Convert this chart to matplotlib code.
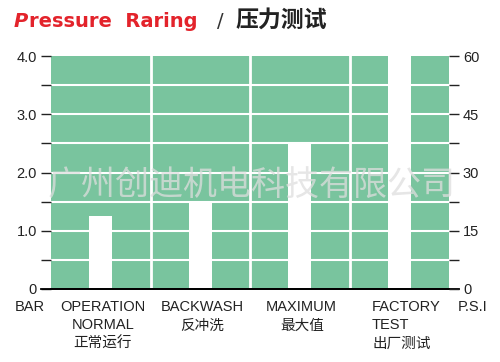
import matplotlib
matplotlib.use('Agg')
import matplotlib.pyplot as plt
from matplotlib.ticker import MultipleLocator, FixedLocator

# Данные
categories = ['OPERATION\nNORMAL\n正常运行', 'BACKWASH\n反冲洗', 'MAXIMUM\n最大值', 'FACTORY\nTEST\n出厂测试']
bar_values = [1.25, 1.5, 2.5, 4.0]
bar_ticks = [0, 1.0, 2.0, 3.0, 4.0]
bar_labels = ['0', '1.0', '2.0', '3.0', '4.0']
psi_ticks = [0, 15, 30, 45, 60]
psi_labels = ['0', '15', '30', '45', '60']

GREEN = '#79C49E'
LABEL_FONT = ['Liberation Sans', 'Noto Sans CJK SC']

fig = plt.figure(figsize=(5, 3.62), dpi=100)
ax = fig.add_axes([51 / 500, 1 - 289 / 362, 398 / 500, 233 / 362])
ax.set_facecolor(GREEN)
ax.set_xlim(0, 4)
ax.set_ylim(0, 4)

# белые "пустые" столбики
xs = [i + 0.5 for i in range(len(bar_values))]
ax.bar(xs, bar_values, width=0.23, color='white', zorder=2)

# белая сетка
for y in [0.5 * k for k in range(1, 8)]:
    ax.axhline(y, color='white', lw=1.5, zorder=1)
for x in range(1, len(categories)):
    ax.axvline(x, color='white', lw=2, zorder=1)

for s in ['left', 'right', 'top']:
    ax.spines[s].set_visible(False)
ax.spines['bottom'].set_color('black')
ax.spines['bottom'].set_linewidth(1.3)
ax.spines['bottom'].set_zorder(3)

ax.yaxis.set_major_locator(FixedLocator(bar_ticks))
ax.set_yticklabels(bar_labels, family=LABEL_FONT, fontsize=10.5, color='#222222')
ax.yaxis.set_minor_locator(MultipleLocator(0.5))
ax.tick_params(axis='y', which='both', length=7, width=1, pad=3, color='#222222')
ax.set_xticks([])

ax2 = ax.twinx()
ax2.set_ylim(0, 60)
for s in ['left', 'right', 'top', 'bottom']:
    ax2.spines[s].set_visible(False)
ax2.yaxis.set_major_locator(FixedLocator(psi_ticks))
ax2.set_yticklabels(psi_labels, family=LABEL_FONT, fontsize=10.5, color='#222222')
ax2.yaxis.set_minor_locator(MultipleLocator(7.5))
ax2.tick_params(axis='y', which='both', length=7, width=1, pad=3, color='#222222')

# продолжение нижней линии под тиками
ax.plot([-0.1, 4.1], [0, 0], color='black', lw=1.3, clip_on=False, zorder=3)

# подписи категорий
label_y = 1 - 300 / 362
for i, lab in enumerate(categories):
    if i == 3:
        fig.text(372 / 500, label_y, lab, ha='left', va='top', multialignment='left',
                 family=LABEL_FONT, fontsize=10.5, color='#222222', linespacing=1.4)
    else:
        fig.text((51 + 99.5 * (i + 0.52)) / 500, label_y, lab, ha='center', va='top',
                 family=LABEL_FONT, fontsize=10.5, color='#222222', linespacing=1.4)
fig.text(15 / 500, label_y, 'BAR', ha='left', va='top', family=LABEL_FONT,
         fontsize=10.5, color='#222222')
fig.text(458 / 500, label_y, 'P.S.I', ha='left', va='top', family=LABEL_FONT,
         fontsize=10.5, color='#222222')

# водяной знак
fig.text(252 / 500, 1 - 185 / 362, '广州创迪机电科技有限公司', ha='center', va='center',
         family='Noto Sans CJK SC', fontsize=24.5, color=(0.87, 0.87, 0.87), alpha=0.75,
         zorder=10)

# заголовок
fig.canvas.draw()
renderer = fig.canvas.get_renderer()
base_y = 1 - 27 / 362
t1 = fig.text(14 / 500, base_y, 'P', family='DejaVu Sans', weight='bold', style='italic',
              fontsize=14, color='#E3232B', va='baseline')
x_next = t1.get_window_extent(renderer).x1 / 500 + 0.002
t2 = fig.text(x_next, base_y, 'ressure  Raring', family='DejaVu Sans', weight='bold',
              fontsize=14, color='#E3232B', va='baseline')
fig.text(217 / 500, base_y, '/', family='DejaVu Sans', fontsize=14, color='#333333',
         va='baseline')
fig.text(236 / 500, base_y, '压力测试', family='Noto Sans CJK SC', weight='bold',
         fontsize=16.5, color='#222222', va='baseline')

fig.savefig('out.png', dpi=100)
